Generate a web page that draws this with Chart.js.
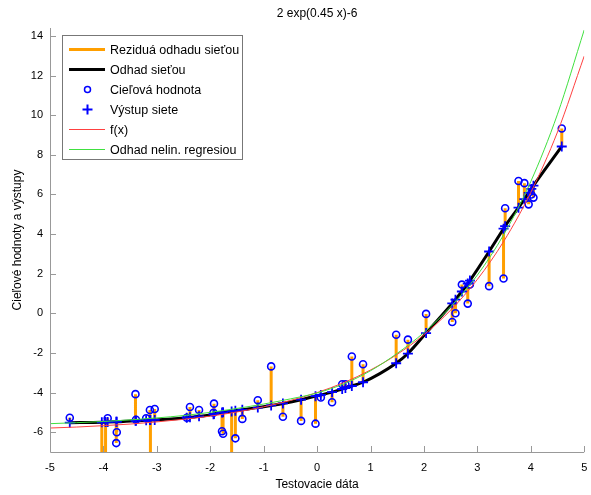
<!DOCTYPE html>
<html>
<head>
<meta charset="utf-8">
<script src="https://cdn.jsdelivr.net/npm/chart.js@4"></script>
<style>
  html, body { margin: 0; padding: 0; background: #fff; }
</style>
</head>
<body>
<canvas id="chart" width="591" height="495"></canvas>
<script>
// test data (targets below -7 are off the axes)
var testX   = [-4.63, -4.03, -3.96, -3.92, -3.76, -3.75, -3.40, -3.39, -3.20, -3.13, -3.12, -3.04,
               -2.44, -2.38, -2.21, -1.94, -1.93, -1.78, -1.76, -1.60, -1.53, -1.40, -1.11, -0.86,
               -0.64, -0.30, -0.03, 0.07, 0.28, 0.47, 0.53, 0.65, 0.86, 1.48, 1.70, 2.04,
               2.53, 2.59, 2.71, 2.82, 2.86, 3.22, 3.49, 3.52, 3.77, 3.88, 3.96, 4.01, 4.05, 4.58];
var targetY = [-5.27, -9.0, -9.0, -5.30, -6.55, -6.00, -4.08, -5.37, -5.30, -4.88, -9.0, -4.83,
               -5.27, -4.73, -4.88, -5.02, -4.56, -5.95, -6.08, -9.0, -6.31, -5.33, -4.39, -2.68,
               -5.22, -5.43, -5.57, -4.25, -4.49, -3.58, -3.58, -2.18, -2.57, -1.08, -1.33, -0.03,
               -0.44, 0.00, 1.45, 0.49, 1.45, 1.37, 1.76, 5.30, 6.68, 6.57, 5.50, 6.00, 5.84, 9.33];
var outputY = [-5.52, -5.50, -5.49, -5.48, -5.47, -5.47, -5.42, -5.42, -5.40, -5.39, -5.39, -5.38,
               -5.27, -5.25, -5.20, -5.09, -5.08, -5.01, -5.00, -4.95, -4.92, -4.87, -4.76, -4.65,
               -4.55, -4.36, -4.18, -4.12, -3.98, -3.82, -3.77, -3.67, -3.48, -2.52, -2.03, -1.00,
               0.50, 0.69, 1.10, 1.50, 1.65, 3.12, 4.27, 4.40, 5.33, 5.76, 6.08, 6.28, 6.44, 8.42];

// smooth curves
var curveX = [-5, -4.5, -4, -3.5, -3, -2.5, -2, -1.5, -1, -0.5, 0, 0.5, 1, 1.5, 2, 2.5, 3, 3.5, 4, 4.5, 5];
var fxY    = [-5.79, -5.74, -5.67, -5.59, -5.48, -5.35, -5.19, -4.98, -4.72, -4.40, -4.00, -3.50, -2.86,
              -2.07, -1.08, 0.16, 1.71, 3.66, 6.10, 9.15, 12.98];
var regY   = [-5.57, -5.52, -5.46, -5.38, -5.28, -5.16, -5.00, -4.80, -4.58, -4.32, -4.02, -3.56, -2.90,
              -2.02, -0.97, 0.33, 1.93, 4.00, 6.65, 10.05, 14.30];

var xTicks = [-5, -4, -3, -2, -1, 0, 1, 2, 3, 4, 5];
var yTicks = [-6, -4, -2, 0, 2, 4, 6, 8, 10, 12, 14];

var FONT = "'Liberation Sans', Arial, sans-serif";
var ORANGE = '#ff9f00';
var BLUE = '#0000ff';

function pts(xs, ys) {
  return xs.map(function (x, i) { return { x: x, y: ys[i] }; });
}

var resid = [];
for (var i = 0; i < testX.length; i++) {
  resid.push({ x: testX[i], y: targetY[i] }, { x: testX[i], y: outputY[i] }, { x: testX[i], y: null });
}

var legendItems = [
  { text: 'Reziduá odhadu sieťou', type: 'line', color: ORANGE, width: 3 },
  { text: 'Odhad sieťou', type: 'line', color: '#000', width: 3 },
  { text: 'Cieľová hodnota', type: 'circle', color: BLUE },
  { text: 'Výstup siete', type: 'cross', color: BLUE },
  { text: 'f(x)', type: 'line', color: '#ff4040', width: 1 },
  { text: 'Odhad nelin. regresiou', type: 'line', color: '#40e040', width: 1 }
];

var decor = {
  id: 'decor',
  afterDraw: function (chart) {
    var c = chart.ctx, a = chart.chartArea;
    var xs = chart.scales.x, ys = chart.scales.y;
    c.save();
    // axes and inward ticks
    c.strokeStyle = '#999';
    c.lineWidth = 1;
    c.beginPath();
    c.moveTo(a.left + 0.5, a.top);
    c.lineTo(a.left + 0.5, a.bottom + 0.5);
    c.lineTo(a.right, a.bottom + 0.5);
    xTicks.forEach(function (v) {
      var px = Math.round(xs.getPixelForValue(v)) + 0.5;
      c.moveTo(px, a.bottom);
      c.lineTo(px, a.bottom - 6);
    });
    yTicks.forEach(function (v) {
      var py = Math.round(ys.getPixelForValue(v)) + 0.5;
      c.moveTo(a.left, py);
      c.lineTo(a.left + 6, py);
    });
    c.stroke();

    // titles
    c.fillStyle = '#000';
    c.font = '12px ' + FONT;
    c.textAlign = 'center';
    c.textBaseline = 'middle';
    c.fillText('2 exp(0.45 x)-6', (a.left + a.right) / 2, 14);
    c.fillText('Testovacie dáta', (a.left + a.right) / 2, 485);
    c.save();
    c.translate(18, (a.top + a.bottom) / 2);
    c.rotate(-Math.PI / 2);
    c.fillText('Cieľové hodnoty a výstupy', 0, 0);
    c.restore();

    // legend box
    var bx = 62.5, by = 35.5, bw = 180, bh = 124;
    c.fillStyle = '#fff';
    c.fillRect(bx, by, bw, bh);
    c.strokeStyle = '#777';
    c.lineWidth = 1;
    c.strokeRect(bx, by, bw, bh);
    c.textAlign = 'left';
    c.font = '12.5px ' + FONT;
    legendItems.forEach(function (it, k) {
      var y = 49.5 + k * 20;
      c.strokeStyle = it.color;
      if (it.type === 'line') {
        c.lineWidth = it.width;
        c.beginPath();
        c.moveTo(69, y);
        c.lineTo(105, y);
        c.stroke();
      } else if (it.type === 'circle') {
        c.lineWidth = 1.5;
        c.beginPath();
        c.arc(87.5, y, 3, 0, Math.PI * 2);
        c.stroke();
      } else {
        c.lineWidth = 2;
        c.beginPath();
        c.moveTo(82.5, y); c.lineTo(92.5, y);
        c.moveTo(87.5, y - 5); c.lineTo(87.5, y + 5);
        c.stroke();
      }
      c.fillStyle = '#000';
      c.fillText(it.text, 110, y + 1);
    });
    c.restore();
  }
};

new Chart(document.getElementById('chart'), {
  type: 'line',
  data: {
    datasets: [
      { label: 'Odhad nelin. regresiou', data: pts(curveX, regY), borderColor: '#40e040', borderWidth: 1,
        pointRadius: 0, cubicInterpolationMode: 'monotone' },
      { label: 'f(x)', data: pts(curveX, fxY), borderColor: '#ff4040', borderWidth: 1,
        pointRadius: 0, cubicInterpolationMode: 'monotone' },
      { label: 'Výstup siete', data: pts(testX, outputY), showLine: false, pointStyle: 'cross',
        pointRadius: 5, borderColor: BLUE, pointBorderWidth: 1.8 },
      { label: 'Cieľová hodnota', data: pts(testX, targetY), showLine: false, pointStyle: 'circle',
        pointRadius: 3.5, borderColor: BLUE, backgroundColor: 'rgba(0,0,0,0)', pointBorderWidth: 1.6 },
      { label: 'Odhad sieťou', data: pts(testX, outputY), borderColor: '#000', borderWidth: 3,
        pointRadius: 0, cubicInterpolationMode: 'monotone' },
      { label: 'Reziduá odhadu sieťou', data: resid, borderColor: ORANGE, borderWidth: 3,
        pointRadius: 0, spanGaps: false }
    ]
  },
  options: {
    responsive: false,
    animation: false,
    events: [],
    layout: { padding: { left: 0, right: 6, top: 28, bottom: 0 } },
    scales: {
      x: {
        type: 'linear', min: -5, max: 5,
        grid: { display: false, drawTicks: false },
        border: { display: false },
        ticks: { stepSize: 1, padding: 9, color: '#000', font: { family: FONT, size: 11 } },
        afterBuildTicks: function (s) { s.ticks = xTicks.map(function (v) { return { value: v }; }); },
        afterFit: function (s) { s.height = 43; s.paddingLeft = 0; s.paddingRight = 0; }
      },
      y: {
        type: 'linear', min: -7, max: 14.4,
        grid: { display: false, drawTicks: false },
        border: { display: false },
        ticks: { padding: 7, color: '#000', font: { family: FONT, size: 11 } },
        afterBuildTicks: function (s) { s.ticks = yTicks.map(function (v) { return { value: v }; }); },
        afterFit: function (s) { s.width = 50; s.paddingTop = 0; s.paddingBottom = 0; }
      }
    },
    plugins: { legend: { display: false }, tooltip: { enabled: false }, title: { display: false } }
  },
  plugins: [decor]
});
</script>
</body>
</html>
